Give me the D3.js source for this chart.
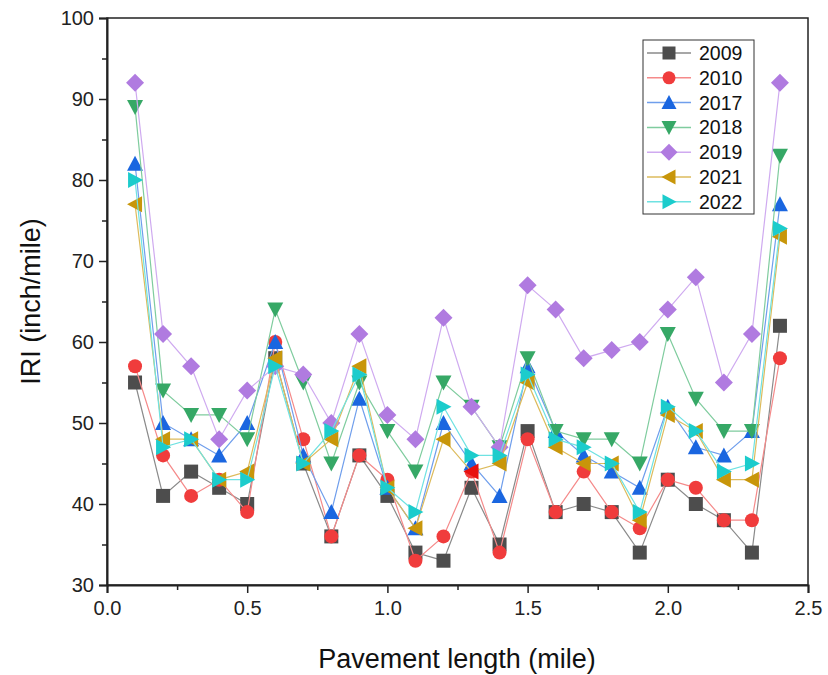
<!DOCTYPE html>
<html>
<head>
<meta charset="utf-8">
<script src="https://cdn.jsdelivr.net/npm/d3@7"></script>
<style>
  body { margin: 0; background: #fff; }
  svg { font-family: "Liberation Sans", Arial, sans-serif; }
</style>
</head>
<body>
<div id="chart"></div>
<script>
// Data
let miles = [0.1, 0.2, 0.3, 0.4, 0.5, 0.6, 0.7, 0.8, 0.9, 1.0, 1.1, 1.2,
             1.3, 1.4, 1.5, 1.6, 1.7, 1.8, 1.9, 2.0, 2.1, 2.2, 2.3, 2.4];
let years = ["2009", "2010", "2017", "2018", "2019", "2021", "2022"];
let iri2009 = [55, 41, 44, 42, 40, 58, 45, 36, 46, 41, 34, 33, 42, 35, 49, 39, 40, 39, 34, 43, 40, 38, 34, 62];
let iri2010 = [57, 46, 41, 43, 39, 60, 48, 36, 46, 43, 33, 36, 44, 34, 48, 39, 44, 39, 37, 43, 42, 38, 38, 58];
let iri2017 = [82, 50, 48, 46, 50, 60, 46, 39, 53, 42, 37, 50, 45, 41, 57, 49, 46, 44, 42, 52, 47, 46, 49, 77];
let iri2018 = [89, 54, 51, 51, 48, 64, 55, 45, 55, 49, 44, 55, 52, 47, 58, 49, 48, 48, 45, 61, 53, 49, 49, 83];
let iri2019 = [92, 61, 57, 48, 54, 57, 56, 50, 61, 51, 48, 63, 52, 47, 67, 64, 58, 59, 60, 64, 68, 55, 61, 92];
let iri2021 = [77, 48, 48, 43, 44, 58, 45, 48, 57, 42, 37, 48, 44, 45, 55, 47, 45, 45, 38, 51, 49, 43, 43, 73];
let iri2022 = [80, 47, 48, 43, 43, 57, 45, 49, 56, 42, 39, 52, 46, 46, 56, 48, 47, 45, 39, 52, 49, 44, 45, 74];
let xTicks = [0, 0.5, 1.0, 1.5, 2.0, 2.5];
let yTicks = [30, 40, 50, 60, 70, 80, 90, 100];

let seriesValues = [iri2009, iri2010, iri2017, iri2018, iri2019, iri2021, iri2022];

// styles per series
let markerColors = ["#4d4d4d", "#f03c3c", "#1a66e0", "#36a866", "#b07be0", "#c8960a", "#1ccccc"];
let lineColors   = ["#8a8a8a", "#f58a8a", "#6f9eec", "#7fcc9e", "#cfaaf0", "#ddbb5c", "#6fe2e2"];
let symbols = ["square", "circle", "up", "down", "diamond", "left", "right"];

let width = 828, height = 675;

let svg = d3.select("#chart").append("svg")
    .attr("width", width)
    .attr("height", height);

let x = d3.scaleLinear().domain([0, 2.5]).range([107, 808]);
let y = d3.scaleLinear().domain([30, 100]).range([585, 18]);

// marker path generator
function markerPath(type, s) {
    let h = s / 2;
    if (type == "square") return `M${-h},${-h}H${h}V${h}H${-h}Z`;
    if (type == "circle") return d3.symbol(d3.symbolCircle, Math.PI * h * h)();
    if (type == "up") return `M0,${-h - 1}L${h + 1},${h}L${-h - 1},${h}Z`;
    if (type == "down") return `M0,${h + 1}L${h + 1},${-h}L${-h - 1},${-h}Z`;
    if (type == "left") return `M${-h - 1},0L${h},${-h - 1}L${h},${h + 1}Z`;
    if (type == "right") return `M${h + 1},0L${-h},${-h - 1}L${-h},${h + 1}Z`;
    if (type == "diamond") return `M0,${-h - 2}L${h + 2},0L0,${h + 2}L${-h - 2},0Z`;
}

// frame
svg.append("rect")
    .attr("x", x(0)).attr("y", y(100))
    .attr("width", x(2.5) - x(0)).attr("height", y(30) - y(100))
    .attr("fill", "none").attr("stroke", "#222").attr("stroke-width", 1.5);

// x axis
let xAxis = d3.axisBottom(x).tickValues(xTicks).tickFormat(d3.format(".1f")).tickSizeOuter(0).tickSize(8).tickPadding(8);
let gx = svg.append("g").attr("transform", `translate(0,${y(30)})`).call(xAxis);
gx.selectAll(".tick text").attr("font-size", 20).attr("fill", "#222");
gx.selectAll("line").attr("stroke", "#222").attr("stroke-width", 1.5);
gx.select(".domain").attr("stroke", "#222").attr("stroke-width", 2);
svg.append("g").attr("transform", `translate(0,${y(30)})`)
    .call(d3.axisBottom(x).tickValues([0.25, 0.75, 1.25, 1.75, 2.25]).tickFormat("").tickSize(5).tickSizeOuter(0))
    .call(g => g.select(".domain").remove())
    .call(g => g.selectAll("line").attr("stroke", "#222").attr("stroke-width", 1.5));

// y axis
let yAxis = d3.axisLeft(y).tickValues(yTicks).tickSizeOuter(0).tickSize(8).tickPadding(5);
let gy = svg.append("g").attr("transform", `translate(${x(0)},0)`).call(yAxis);
gy.selectAll(".tick text").attr("font-size", 20).attr("fill", "#222");
gy.selectAll("line").attr("stroke", "#222").attr("stroke-width", 1.5);
gy.select(".domain").attr("stroke", "#222").attr("stroke-width", 2);
svg.append("g").attr("transform", `translate(${x(0)},0)`)
    .call(d3.axisLeft(y).tickValues([35, 45, 55, 65, 75, 85, 95]).tickFormat("").tickSize(5).tickSizeOuter(0))
    .call(g => g.select(".domain").remove())
    .call(g => g.selectAll("line").attr("stroke", "#222").attr("stroke-width", 1.5));

// axis titles
svg.append("text")
    .attr("x", 457).attr("y", 668)
    .attr("text-anchor", "middle")
    .attr("font-size", 27).attr("fill", "#111")
    .text("Pavement length (mile)");

svg.append("text")
    .attr("transform", `translate(40,${(y(30) + y(100)) / 2}) rotate(-90)`)
    .attr("text-anchor", "middle")
    .attr("font-size", 27).attr("fill", "#111")
    .text("IRI (inch/mile)");

// series
let line = d3.line().x((d, i) => x(miles[i])).y(d => y(d));

seriesValues.forEach((vals, k) => {
    let g = svg.append("g");
    g.append("path")
        .datum(vals)
        .attr("d", line)
        .attr("fill", "none")
        .attr("stroke", lineColors[k])
        .attr("stroke-width", 1.2);
    g.selectAll("path.m")
        .data(vals)
        .join("path")
        .attr("class", "m")
        .attr("transform", (d, i) => `translate(${x(miles[i])},${y(d)})`)
        .attr("d", markerPath(symbols[k], 14))
        // one 2021 point is drawn red in the original
        .attr("fill", (d, i) => (k == 5 && i == 12) ? "#e81010" : markerColors[k]);
});

// legend
let lg = svg.append("g").attr("transform", "translate(643,40)");
lg.append("rect")
    .attr("width", 111).attr("height", 174)
    .attr("fill", "#fff").attr("stroke", "#333").attr("stroke-width", 1);
years.forEach((yr, k) => {
    let yy = 13 + k * 24.8;
    lg.append("line")
        .attr("x1", 4).attr("x2", 48).attr("y1", yy).attr("y2", yy)
        .attr("stroke", lineColors[k]).attr("stroke-width", 1.5);
    lg.append("path")
        .attr("transform", `translate(26,${yy})`)
        .attr("d", markerPath(symbols[k], 13))
        .attr("fill", markerColors[k]);
    lg.append("text")
        .attr("x", 56).attr("y", yy + 7)
        .attr("font-size", 19.5).attr("fill", "#111")
        .text(yr);
});
</script>
</body>
</html>
